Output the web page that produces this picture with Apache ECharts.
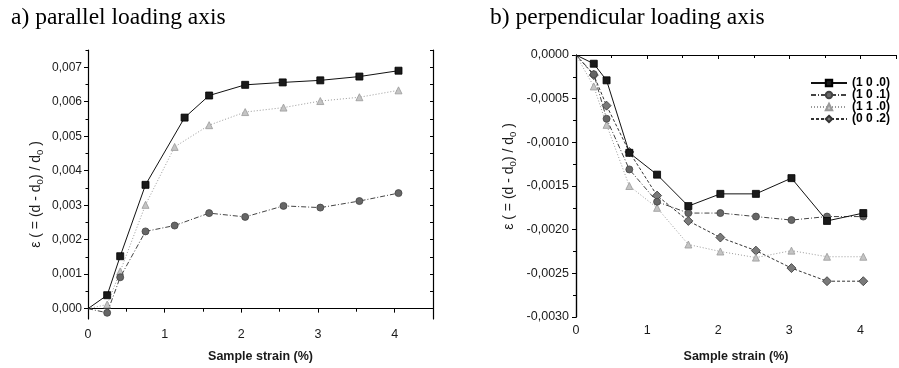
<!DOCTYPE html>
<html>
<head>
<meta charset="utf-8">
<script src="https://cdn.jsdelivr.net/npm/echarts@6/dist/echarts.min.js"></script>
<style>
html,body{margin:0;padding:0;background:#fff;}
#c{width:899px;height:368px;}
</style>
</head>
<body>
<div id="c"></div>
<script>
// ---------- data: panel a (parallel loading axis) ----------
var aX = [0, 0.25, 0.42, 0.75, 1.13, 1.58, 2.05, 2.55, 3.03, 3.54, 4.05];
var aX100 = [0, 0.25, 0.42, 0.75, 1.26, 1.58, 2.05, 2.54, 3.03, 3.54, 4.05];
var a100 = [0, 0.00039, 0.00152, 0.00359, 0.00554, 0.00618, 0.00649, 0.00656, 0.00662, 0.00673, 0.0069];
var a101 = [0, -0.00012, 0.00091, 0.00224, 0.00241, 0.00277, 0.00266, 0.00298, 0.00293, 0.00312, 0.00335];
var a110 = [0, 0.00012, 0.00108, 0.00301, 0.00469, 0.00532, 0.0057, 0.00583, 0.00602, 0.00613, 0.00633];
var aYTicks = [0, 0.001, 0.002, 0.003, 0.004, 0.005, 0.006, 0.007];
var aYMinor = [0.0005, 0.0015, 0.0025, 0.0035, 0.0045, 0.0055, 0.0065, 0.0075];

// ---------- data: panel b (perpendicular loading axis) ----------
var bX = [0, 0.25, 0.43, 0.75, 1.14, 1.58, 2.03, 2.53, 3.03, 3.53, 4.04];
var b100 = [0, -0.0001, -0.00029, -0.00112, -0.00137, -0.00173, -0.00159, -0.00159, -0.00141, -0.0019, -0.00181];
var b101 = [0, -0.00022, -0.00073, -0.00131, -0.00168, -0.00181, -0.00181, -0.00185, -0.00189, -0.00185, -0.00185];
var b110 = [0, -0.00036, -0.0008, -0.0015, -0.00175, -0.00217, -0.00225, -0.00232, -0.00224, -0.00231, -0.00231];
var b002 = [0, -0.00023, -0.00058, -0.00111, -0.00161, -0.0019, -0.00209, -0.00224, -0.00244, -0.00259, -0.00259];

var names = ['(1 0 .0)', '(1 0 .1)', '(1 1 .0)', '(0 0 .2)'];

function pts(xs, ys) {
  return xs.map(function (x, i) {
    var d = { value: [x, ys[i]] };
    if (i === 0) d.symbol = 'none';
    return d;
  });
}

var F = 'Arial, "Liberation Sans", sans-serif';
var TXT = '#1a1a1a';

var styles = [
  { symbol: 'rect', symbolSize: 7, color: '#1a1a1a', line: { color: '#111', width: 1, type: 'solid' }, border: '#000' },
  { symbol: 'circle', symbolSize: 7, color: '#666', line: { color: '#444', width: 1, type: [5, 2, 1, 2] }, border: '#444' },
  { symbol: 'triangle', symbolSize: 7, color: '#c4c4c4', line: { color: '#999', width: 1, type: [1, 2] }, border: '#999' },
  { symbol: 'diamond', symbolSize: 9, color: '#7a7a7a', line: { color: '#333', width: 1, type: [3, 2] }, border: '#333' }
];

function mkSeries(idx, xs, ys, xi, yi) {
  var s = styles[idx];
  return {
    type: 'line', name: names[idx], xAxisIndex: xi, yAxisIndex: yi,
    data: pts(xs, ys), symbol: s.symbol, symbolSize: s.symbolSize, showAllSymbol: true,
    itemStyle: { color: s.color, borderColor: s.border, borderWidth: 0.8 },
    lineStyle: s.line, animation: false, z: 5 - idx
  };
}

function fmtA(v) { return Math.abs(v) < 1e-12 ? '0,000' : v.toFixed(3).replace('.', ','); }
function fmtB(v) { return Math.abs(v) < 1e-12 ? '0,0000' : v.toFixed(4).replace('.', ','); }

var nameRich = {
  a: { fontFamily: F, fontSize: 14, color: TXT },
  s: { fontFamily: F, fontSize: 9.5, color: TXT, padding: [8, 0, 0, 0] }
};
var yName = '{a|ε ( = (d - d}{s|0}{a|) / d}{s|0}{a| )}';

var axisLineS = { show: true, lineStyle: { color: '#000', width: 1.2 } };
var serifF = '"Liberation Serif", "Times New Roman", serif';

var option = {
  backgroundColor: '#fff',
  animation: false,
  title: [
    { text: 'a) parallel loading axis', left: 6, top: 1,
      textStyle: { fontFamily: serifF, fontSize: 23.5, fontWeight: 'normal', color: '#000' } },
    { text: 'b) perpendicular loading axis', left: 485, top: 1,
      textStyle: { fontFamily: serifF, fontSize: 23.5, fontWeight: 'normal', color: '#000' } }
  ],
  legend: {
    data: names, orient: 'vertical', left: 805, top: 72,
    itemWidth: 36, itemHeight: 8, itemGap: 0,
    textStyle: { fontFamily: F, fontSize: 12, fontWeight: 'bold', color: '#000', lineHeight: 11.4 },
    selectedMode: false
  },
  grid: [
    { left: 88, top: 50, right: 466, bottom: 49 },
    { left: 576, top: 55, right: -6, bottom: 51 }
  ],
  xAxis: [
    { gridIndex: 0, type: 'value', min: 0, max: 4.5, interval: 1, position: 'bottom',
      axisLine: axisLineS, splitLine: { show: false },
      axisTick: { show: true, inside: false, length: 4, lineStyle: { color: '#000' } },
      minorTick: { show: true, splitNumber: 2, length: 2.5, lineStyle: { color: '#000' } },
      axisLabel: { margin: 9, fontFamily: F, fontSize: 12.5, color: TXT, formatter: function (v) { return v > 4.01 ? '' : String(v); } },
      name: 'Sample strain (%)', nameLocation: 'middle', nameGap: 31,
      nameTextStyle: { fontFamily: F, fontSize: 12.5, fontWeight: 'bold', color: TXT } },
    { gridIndex: 0, type: 'value', min: 0, max: 4.5, interval: 0.5, position: 'top',
      axisLine: axisLineS, splitLine: { show: false },
      axisTick: { show: true, inside: true, length: 3, lineStyle: { color: '#000' } },
      axisLabel: { show: false } },
    { gridIndex: 1, type: 'value', min: 0, max: 4.5, interval: 1, position: 'bottom',
      axisLine: axisLineS, splitLine: { show: false },
      axisTick: { show: true, inside: false, length: 4, lineStyle: { color: '#000' } },
      minorTick: { show: true, splitNumber: 2, length: 2.5, lineStyle: { color: '#000' } },
      axisLabel: { margin: 7, fontFamily: F, fontSize: 12.5, color: TXT, formatter: function (v) { return v > 4.01 ? '' : String(v); } },
      name: 'Sample strain (%)', nameLocation: 'middle', nameGap: 33,
      nameTextStyle: { fontFamily: F, fontSize: 12.5, fontWeight: 'bold', color: TXT } },
    { gridIndex: 1, type: 'value', min: 0, max: 4.5, interval: 0.5, position: 'top',
      axisLine: axisLineS, splitLine: { show: false },
      axisTick: { show: true, inside: true, length: 3, lineStyle: { color: '#000' } },
      axisLabel: { show: false } }
  ],
  yAxis: [
    { gridIndex: 0, type: 'value', min: -0.0003, max: 0.0075, position: 'left',
      axisLine: axisLineS, splitLine: { show: false },
      axisTick: { show: true, inside: false, length: 4, customValues: aYTicks, lineStyle: { color: '#000' } },
      axisLabel: { margin: 6, fontFamily: F, fontSize: 12, color: TXT, customValues: aYTicks, formatter: fmtA },
      name: yName, nameLocation: 'middle', nameGap: 43, nameRotate: 90,
      nameTextStyle: { rich: nameRich, padding: [0, 20, 0, 0] } },
    { gridIndex: 0, type: 'value', min: -0.0003, max: 0.0075, position: 'left',
      axisLine: { show: false }, splitLine: { show: false },
      axisTick: { show: true, inside: false, length: 2.5, customValues: aYMinor, lineStyle: { color: '#000' } },
      axisLabel: { show: false, customValues: aYMinor } },
    { gridIndex: 0, type: 'value', min: -0.0003, max: 0.0075, position: 'right',
      axisLine: axisLineS, splitLine: { show: false },
      axisTick: { show: true, inside: true, length: 3, customValues: aYTicks.concat(aYMinor), lineStyle: { color: '#000' } },
      axisLabel: { show: false, customValues: aYTicks.concat(aYMinor) } },
    { gridIndex: 1, type: 'value', min: -0.003, max: 0, interval: 0.0005, position: 'left',
      axisLine: axisLineS, splitLine: { show: false },
      axisTick: { show: true, inside: false, length: 4, lineStyle: { color: '#000' } },
      minorTick: { show: true, splitNumber: 2, length: 2.5, lineStyle: { color: '#000' } },
      axisLabel: { margin: 7, fontFamily: F, fontSize: 12.5, color: TXT, formatter: fmtB },
      name: yName, nameLocation: 'middle', nameGap: 58, nameRotate: 90,
      nameTextStyle: { rich: nameRich, padding: [0, 0, 0, 19] } },
    { gridIndex: 1, type: 'value', min: -0.003, max: 0, interval: 0.00025, position: 'right',
      axisLine: axisLineS, splitLine: { show: false },
      axisTick: { show: true, inside: true, length: 3, lineStyle: { color: '#000' } },
      axisLabel: { show: false } }
  ],
  series: [
    mkSeries(0, aX100, a100, 0, 0),
    mkSeries(1, aX, a101, 0, 0),
    mkSeries(2, aX, a110, 0, 0),
    mkSeries(0, bX, b100, 2, 3),
    mkSeries(1, bX, b101, 2, 3),
    mkSeries(2, bX, b110, 2, 3),
    mkSeries(3, bX, b002, 2, 3)
  ]
};

var chart = echarts.init(document.getElementById('c'), null, { renderer: 'canvas' });
chart.setOption(option);
</script>
</body>
</html>
